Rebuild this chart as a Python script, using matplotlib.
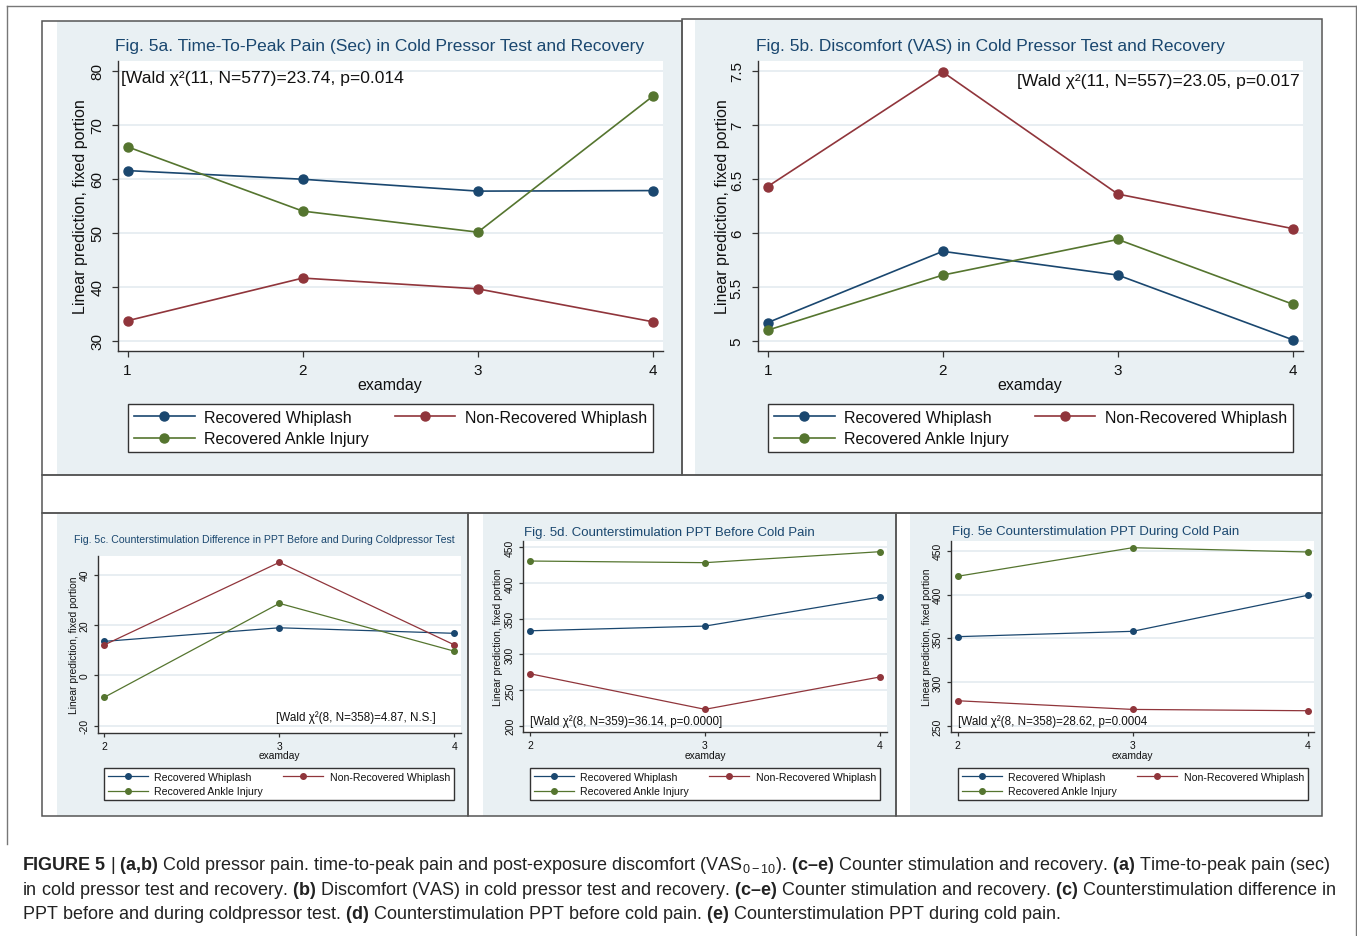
import matplotlib.pyplot as plt
from matplotlib.lines import Line2D
from matplotlib.patches import Rectangle

plt.rcParams['font.family'] = 'Liberation Sans'
plt.rcParams['mathtext.fontset'] = 'custom'
plt.rcParams['mathtext.rm'] = 'Liberation Sans'
plt.rcParams['mathtext.bf'] = 'Liberation Sans:bold'
plt.rcParams['mathtext.it'] = 'Liberation Sans:italic'

W, H = 1357, 937

groups = ['Recovered Whiplash', 'Non-Recovered Whiplash', 'Recovered Ankle Injury']
colors = ['#1a476f', '#90353b', '#55752f']

examday_ab = [1, 2, 3, 4]
examday_cde = [2, 3, 4]

# 5a: time-to-peak pain (sec)
peak_rw = [61.5, 59.9, 57.7, 57.8]
peak_nrw = [33.7, 41.6, 39.6, 33.5]
peak_rai = [65.9, 54.0, 50.1, 75.3]

# 5b: discomfort (VAS)
vas_rw = [5.17, 5.83, 5.61, 5.01]
vas_nrw = [6.43, 7.49, 6.36, 6.04]
vas_rai = [5.10, 5.61, 5.94, 5.34]

# 5c: counterstimulation difference in PPT
diff_rw = [13.5, 18.9, 16.7]
diff_nrw = [12.1, 44.9, 12.1]
diff_rai = [-8.7, 28.6, 9.6]

# 5d: counterstimulation PPT before cold pain
before_rw = [333.0, 339.6, 380.3]
before_nrw = [272.8, 222.9, 268.3]
before_rai = [430.8, 428.5, 443.9]

# 5e: counterstimulation PPT during cold pain
during_rw = [351.9, 358.0, 399.1]
during_nrw = [278.8, 268.9, 267.4]
during_rai = [420.8, 453.4, 448.5]

titles = ['Fig. 5a. Time-To-Peak Pain (Sec) in Cold Pressor Test and Recovery',
          'Fig. 5b. Discomfort (VAS) in Cold Pressor Test and Recovery',
          'Fig. 5c. Counterstimulation Difference in PPT Before and During Coldpressor Test',
          'Fig. 5d. Counterstimulation PPT Before Cold Pain',
          'Fig. 5e Counterstimulation PPT During Cold Pain']
wald = ['[Wald \u03c7\u00b2(11, N=577)=23.74, p=0.014',
        '[Wald \u03c7\u00b2(11, N=557)=23.05, p=0.017',
        '[Wald \u03c7\u00b2(8, N=358)=4.87, N.S.]',
        '[Wald \u03c7\u00b2(8, N=359)=36.14, p=0.0000]',
        '[Wald \u03c7\u00b2(8, N=358)=28.62, p=0.0004']

yticks = [[30, 40, 50, 60, 70, 80],
          [5, 5.5, 6, 6.5, 7, 7.5],
          [-20, 0, 20, 40],
          [200, 250, 300, 350, 400, 450],
          [250, 300, 350, 400, 450]]

series = [(examday_ab, [peak_rw, peak_nrw, peak_rai]),
          (examday_ab, [vas_rw, vas_nrw, vas_rai]),
          (examday_cde, [diff_rw, diff_nrw, diff_rai]),
          (examday_cde, [before_rw, before_nrw, before_rai]),
          (examday_cde, [during_rw, during_nrw, during_rai])]

TITLE_C = '#1a476f'
EDGE = '#555555'
BG = '#e9f0f3'
GRID = '#e6edf1'

# pixel layout of each panel
panels = [
    dict(box=(118.3, 663, 61.7, 351.7), xlim=(0.947, 4.057), ylim=(28.15, 81.85),
         title=(115, 46, 'left'), wald=(121, 78, 'left'), xl=(390, 386), yl=(80, 207),
         leg=(128, 653, 404, 454), fs_title=12.5, fs_tick=11, fs_lab=11.5, fs_leg=11.5,
         fs_wald=12.6, ms=6.5, lw=1.2, tlen=4, xpad=4.5, ypad=6),
    dict(box=(757.7, 1303, 61.7, 351.7), xlim=(0.943, 4.057), ylim=(4.91, 7.595),
         title=(755.6, 47, 'left'), wald=(1300, 81.7, 'right'), xl=(1030, 386), yl=(723, 207),
         leg=(768, 1293, 404, 454), fs_title=12.5, fs_tick=11, fs_lab=11.5, fs_leg=11.5,
         fs_wald=12.6, ms=6.5, lw=1.2, tlen=4, xpad=4.5, ypad=6),
    dict(box=(97.7, 461, 557.3, 734), xlim=(1.962, 4.038), ylim=(-22.9, 47.3),
         title=(264, 540, 'center'), wald=(276, 718, 'left'), xl=(279, 756), yl=(74, 645),
         leg=(104, 454, 768, 802), fs_title=7.6, fs_tick=7.5, fs_lab=7.4, fs_leg=7.6,
         fs_wald=8.35, ms=4, lw=0.9, tlen=3, xpad=2.5, ypad=3),
    dict(box=(523.3, 886.7, 541.7, 733.3), xlim=(1.962, 4.038), ylim=(190.7, 459.3),
         title=(524, 533, 'left'), wald=(530, 722, 'left'), xl=(705, 756), yl=(498, 637),
         leg=(530, 880, 768, 802), fs_title=9.5, fs_tick=7.5, fs_lab=7.4, fs_leg=7.6,
         fs_wald=8.35, ms=4, lw=0.9, tlen=3, xpad=2.5, ypad=3),
    dict(box=(951, 1314.3, 542.3, 733.3), xlim=(1.962, 4.038), ylim=(242.8, 460.7),
         title=(952, 532, 'left'), wald=(958, 722, 'left'), xl=(1132, 756), yl=(927, 637),
         leg=(958, 1308, 768, 802), fs_title=9.5, fs_tick=7.5, fs_lab=7.4, fs_leg=7.6,
         fs_wald=8.35, ms=4, lw=0.9, tlen=3, xpad=2.5, ypad=3),
]

fig = plt.figure(figsize=(W / 100, H / 100), dpi=100)
fig.patch.set_facecolor('white')

# full-figure canvas in pixel units for frames, backgrounds and free text
canvas = fig.add_axes([0, 0, 1, 1])
canvas.set_xlim(0, W)
canvas.set_ylim(H, 0)
canvas.axis('off')

# outer frame
canvas.plot([7, 7], [7, 845], color='#777777', lw=1)
canvas.plot([7, 1356], [7, 7], color='#777777', lw=1)
canvas.plot([1356, 1356], [7, H], color='#777777', lw=1)

# graph region backgrounds
for x0, x1, y0, y1 in [(57, 681, 22, 475.5), (695, 1321, 21, 475.5),
                       (57, 467.5, 514.5, 816.5), (483, 895.5, 514.5, 816.5),
                       (910, 1321.5, 514.5, 816.5)]:
    canvas.add_patch(Rectangle((x0, y0), x1 - x0, y1 - y0, facecolor=BG, edgecolor='none'))

# panel borders
for x0, x1, y0, y1 in [(42, 682, 22, 476), (682, 1322, 20, 476), (42, 1322, 476, 514),
                       (42, 468, 514, 817), (468, 896, 514, 817), (896, 1322, 514, 817)]:
    canvas.add_patch(Rectangle((x0, y0), x1 - x0, y1 - y0, facecolor='none',
                               edgecolor=EDGE, lw=1.1))

for i, p in enumerate(panels):
    l, r, t, b = p['box']
    ax = fig.add_axes([l / W, 1 - b / H, (r - l) / W, (b - t) / H])
    ax.set_facecolor('white')
    xs, ys = series[i]
    for vals, c in zip(ys, colors):
        ax.plot(xs, vals, color=c, lw=p['lw'], marker='o', ms=p['ms'], zorder=3)
    ax.set_xlim(*p['xlim'])
    ax.set_ylim(*p['ylim'])
    ax.set_xticks(xs, [str(v) for v in xs])
    ax.set_yticks(yticks[i], ['{:g}'.format(v) for v in yticks[i]])
    ax.grid(axis='y', color=GRID, lw=1.3)
    ax.set_axisbelow(True)
    for s in ['top', 'right']:
        ax.spines[s].set_visible(False)
    for s in ['left', 'bottom']:
        ax.spines[s].set_color('#333333')
        ax.spines[s].set_linewidth(1.0)
    ax.tick_params(direction='out', length=p['tlen'], width=0.9, color='#333333',
                   labelsize=p['fs_tick'], labelcolor='#111111')
    ax.tick_params(axis='x', pad=p['xpad'])
    ax.tick_params(axis='y', pad=p['ypad'], labelrotation=90)
    plt.setp(ax.get_yticklabels(), va='center')

    # Wald test note sits inside the plot region, so it belongs to the panel axes
    wx, wy, wha = p['wald']
    ax.text(wx, wy, wald[i], transform=canvas.transData, ha=wha, va='center',
            color='#111111', fontsize=p['fs_wald'], zorder=5)

    tx, ty, tha = p['title']
    canvas.text(tx, ty, titles[i], ha=tha, va='center', color=TITLE_C, fontsize=p['fs_title'])
    canvas.text(p['xl'][0], p['xl'][1], 'examday', ha='center', va='center',
                color='#111111', fontsize=p['fs_lab'])
    canvas.text(p['yl'][0], p['yl'][1], 'Linear prediction, fixed portion', ha='center',
                va='center', rotation=90, color='#111111', fontsize=p['fs_lab'])

    handles = [Line2D([], [], color=c, lw=p['lw'], marker='o', ms=p['ms']) for c in colors]
    order = [0, 2, 1]
    x0, x1, y0, y1 = p['leg']
    leg = fig.legend([handles[k] for k in order], [groups[k] for k in order], ncol=2,
                     loc='center', mode='expand',
                     bbox_to_anchor=(x0 / W, 1 - y1 / H, (x1 - x0) / W, (y1 - y0) / H),
                     bbox_transform=fig.transFigure, fontsize=p['fs_leg'],
                     frameon=True, fancybox=False, framealpha=1, edgecolor='#333333',
                     borderaxespad=0, handlelength=3.8, handletextpad=0.6,
                     labelspacing=0.42, borderpad=0.38, columnspacing=1.0)
    leg.get_frame().set_linewidth(1.0)
    for txt in leg.get_texts():
        txt.set_color('#111111')

# figure caption
caption = [
    r'$\mathbf{FIGURE\ 5}$ | $\mathbf{(a{,}b)}$ Cold pressor pain. time-to-peak pain and '
    r'post-exposure discomfort (VAS$_{0-10}$). $\mathbf{(c–e)}$ Counter stimulation and '
    r'recovery. $\mathbf{(a)}$ Time-to-peak pain (sec)',
    r'in cold pressor test and recovery. $\mathbf{(b)}$ Discomfort (VAS) in cold pressor '
    r'test and recovery. $\mathbf{(c–e)}$ Counter stimulation and recovery. '
    r'$\mathbf{(c)}$ Counterstimulation difference in',
    r'PPT before and during coldpressor test. $\mathbf{(d)}$ Counterstimulation PPT before '
    r'cold pain. $\mathbf{(e)}$ Counterstimulation PPT during cold pain.',
]
for k, line in enumerate(caption):
    canvas.text(22, 866 + 24.5 * k, line, ha='left', va='center', fontsize=12.95,
                color='#222222')

fig.savefig('out.png', dpi=100)
